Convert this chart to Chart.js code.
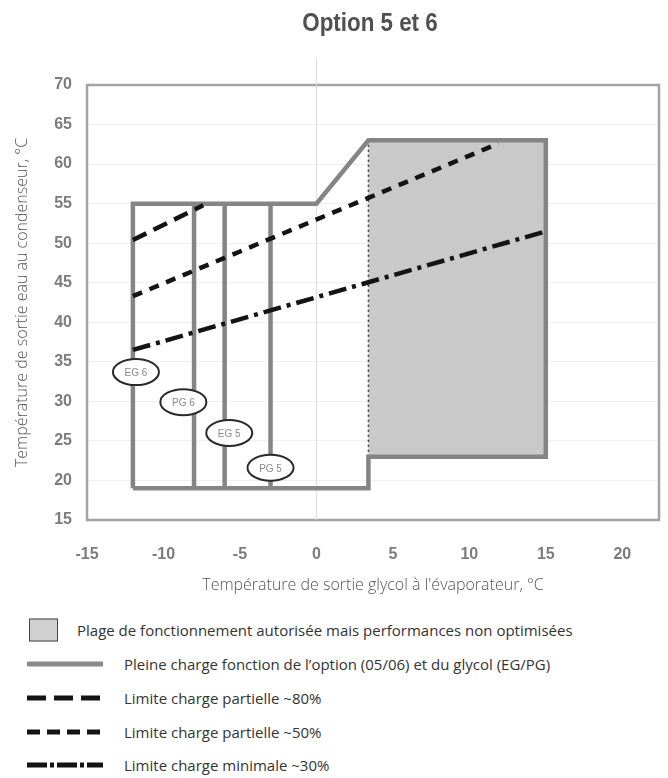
<!DOCTYPE html>
<html>
<head>
<meta charset="utf-8">
<script src="https://cdn.jsdelivr.net/npm/chart.js@4"></script>
<style>
  html, body { margin: 0; padding: 0; background: #fff; }
  #wrap { position: relative; width: 668px; height: 778px; overflow: hidden; }
  #c { position: absolute; left: 0; top: 0; }
  #title { position: absolute; left: 250px; width: 240px; top: 7px; line-height: 30px; text-align: center;
           font-family: 'Liberation Sans', Arial, sans-serif; font-weight: bold; font-size: 26px; color: #505050;
           transform: scaleX(0.86); transform-origin: 50% 50%; white-space: nowrap; }
  .item { position: absolute; left: 0; height: 24px; width: 668px; }
  .item span { position: absolute; top: 50%; transform: translateY(-50%);
               font-family: 'Open Sans', sans-serif; font-size: 15px; color: #333; white-space: nowrap; }
  .item svg, .item .box { position: absolute; top: 50%; transform: translateY(-50%); }
  .box { width: 27px; height: 21px; background: #d0d0d0; border: 1px solid #444; }
</style>
</head>
<body>
<div id="wrap">
  <canvas id="c" width="668" height="600"></canvas>
  <div id="title">Option 5 et 6</div>
  <div id="legend"></div>
</div>
<script>
// Axis ticks
const xTicks = [-15, -10, -5, 0, 5, 10, 15, 20];
const yTicks = [15, 20, 25, 30, 35, 40, 45, 50, 55, 60, 65, 70];

// Full-load operating envelope (glycol leaving temp, condenser water leaving temp)
const envelopeX = [-12, -12, 0, 3.4, 15, 15, 3.4, 3.4, -12];
const envelopeY = [19, 55, 55, 63, 63, 23, 23, 19, 19];

// Allowed zone with non-optimised performance
const zoneX = [3.4, 15, 15, 3.4, 3.4];
const zoneY = [23, 23, 63, 63, 23];

// Glycol / option minimum limits (PG 6, EG 5, PG 5)
const glycolLimitX = [-8, -6, -3];
const glycolLimitY = [19, 55];

// Part-load limits
const load80X = [-12, -7.4];
const load80Y = [50.4, 54.8];
const load50X = [-12, 11.9];
const load50Y = [43.3, 62.6];
const load30X = [-12, 15];
const load30Y = [36.5, 51.5];

// Zero reference line with arrow head
const zeroLineX = [0, 0];
const zeroLineY = [15, 73.5];

// Glycol tags
const tagNames = ['EG 6', 'PG 6', 'EG 5', 'PG 5'];
const tagX = [-11.8, -8.7, -5.7, -3.0];
const tagY = [33.7, 29.9, 26.0, 21.6];

const pts = (xs, ys) => xs.map((x, i) => ({ x, y: ys[i] }));

const GREY = '#858585';
const INK = '#141414';

const datasets = [
  { data: pts(load80X, load80Y), borderColor: INK, borderWidth: 4.5, borderDash: [15, 8], order: 1 },
  { data: pts(load50X, load50Y), borderColor: INK, borderWidth: 4.5, borderDash: [10, 8], order: 1 },
  { data: pts(load30X, load30Y), borderColor: INK, borderWidth: 4.5, borderDash: [18, 6, 4, 6], order: 1 },
  { data: pts(envelopeX, envelopeY), borderColor: GREY, borderWidth: 4.5, order: 2 },
  ...glycolLimitX.map(v => ({
    data: pts([v, v], glycolLimitY), borderColor: GREY, borderWidth: 4.5, order: 2
  })),
  { data: pts([zoneX[0], zoneX[3]], [zoneY[0], zoneY[3]]), borderColor: '#333', borderWidth: 1.5, borderDash: [2, 3], order: 3 },
  { data: pts(zoneX, zoneY), borderWidth: 0, borderColor: 'rgba(0,0,0,0)', backgroundColor: '#c9c9c9', fill: 'shape', order: 4 },
  { data: pts(zeroLineX, zeroLineY), borderColor: '#dcdcdc', borderWidth: 1, clip: false, order: 5 },
  { data: [{ x: zeroLineX[1], y: zeroLineY[1] }], showLine: false, pointRadius: 8, pointStyle: 'triangle',
    pointBackgroundColor: INK, pointBorderColor: INK, clip: false, order: 0 }
].map(d => Object.assign({ showLine: true, pointRadius: 0, tension: 0, fill: false }, d));

// Plot frame around the chart area
const framePlugin = {
  id: 'frame',
  beforeDatasetsDraw(chart) {
    const { ctx, chartArea: a } = chart;
    ctx.save();
    ctx.strokeStyle = '#a3a3a3';
    ctx.lineWidth = 2.5;
    ctx.strokeRect(a.left, a.top, a.right - a.left, a.bottom - a.top);
    ctx.restore();
  }
};

// Oval glycol tags sitting on the limit lines
const tagPlugin = {
  id: 'tags',
  afterDatasetsDraw(chart) {
    const { ctx, scales: { x, y } } = chart;
    ctx.save();
    tagNames.forEach((t, i) => {
      const px = x.getPixelForValue(tagX[i]);
      const py = y.getPixelForValue(tagY[i]);
      ctx.beginPath();
      ctx.ellipse(px, py, 23, 13, 0, 0, Math.PI * 2);
      ctx.fillStyle = '#fff';
      ctx.fill();
      ctx.lineWidth = 2;
      ctx.strokeStyle = '#2a2a2a';
      ctx.stroke();
      ctx.fillStyle = '#8a8a8a';
      ctx.font = '10px "Liberation Sans", sans-serif';
      ctx.textAlign = 'center';
      ctx.textBaseline = 'middle';
      ctx.fillText(t, px, py + 1);
    });
    ctx.restore();
  }
};

const tickFont = { family: "'Liberation Sans', sans-serif", size: 16, weight: 'bold' };
const axisTitleFont = { family: "'Open Sans', sans-serif", size: 16, weight: '300' };

new Chart(document.getElementById('c'), {
  type: 'scatter',
  data: { datasets },
  plugins: [framePlugin, tagPlugin],
  options: {
    responsive: false,
    animation: false,
    events: [],
    layout: { padding: { left: 0, right: 7, top: 85, bottom: 0 } },
    plugins: {
      legend: { display: false },
      tooltip: { enabled: false },
      title: { display: false }
    },
    scales: {
      x: {
        type: 'linear',
        min: -15,
        max: 22.4,
        afterBuildTicks: s => { s.ticks = xTicks.map(v => ({ value: v })); },
        afterFit: s => { s.height = 80; },
        grid: { display: false, drawTicks: false },
        border: { display: false },
        ticks: { padding: 25, color: '#7c7c7c', font: tickFont },
        title: {
          display: true,
          text: "Température de sortie glycol à l'évaporateur, °C",
          color: '#555',
          font: axisTitleFont,
          padding: { top: 0, bottom: 5 }
        }
      },
      y: {
        type: 'linear',
        min: 15,
        max: 70,
        afterBuildTicks: s => { s.ticks = yTicks.map(v => ({ value: v })); },
        afterFit: s => { s.width = 87; },
        grid: { color: '#f0f0f0', drawTicks: false },
        border: { display: false },
        ticks: { padding: 15, color: '#7c7c7c', font: tickFont },
        title: {
          display: true,
          text: 'Température de sortie eau au condenseur, °C',
          color: '#555',
          font: axisTitleFont,
          padding: { top: 13, bottom: 0 }
        }
      }
    }
  }
});

// Legend
const legendItems = [
  { kind: 'box', text: 'Plage de fonctionnement autorisée mais performances non optimisées' },
  { kind: 'line', color: '#8a8a8a', dash: '', text: 'Pleine charge fonction de l’option (05/06) et du glycol (EG/PG)' },
  { kind: 'line', color: INK, dash: '19 8', text: 'Limite charge partielle ~80%' },
  { kind: 'line', color: INK, dash: '13 7', text: 'Limite charge partielle ~50%' },
  { kind: 'line', color: INK, dash: '20 3 4 3', text: 'Limite charge minimale ~30%' }
];
const legendTop = [618, 652, 686, 720, 753];
const legend = document.getElementById('legend');
legendItems.forEach((it, i) => {
  const row = document.createElement('div');
  row.className = 'item';
  row.style.top = legendTop[i] + 'px';
  if (it.kind === 'box') {
    row.innerHTML = '<div class="box" style="left:29px"></div><span style="left:77px">' + it.text + '</span>';
  } else {
    row.innerHTML = '<svg width="76" height="8" style="left:27px"><line x1="0" y1="4" x2="76" y2="4" stroke="' + it.color +
      '" stroke-width="5" stroke-dasharray="' + it.dash + '"/></svg><span style="left:124px">' + it.text + '</span>';
  }
  legend.appendChild(row);
});
</script>
</body>
</html>
